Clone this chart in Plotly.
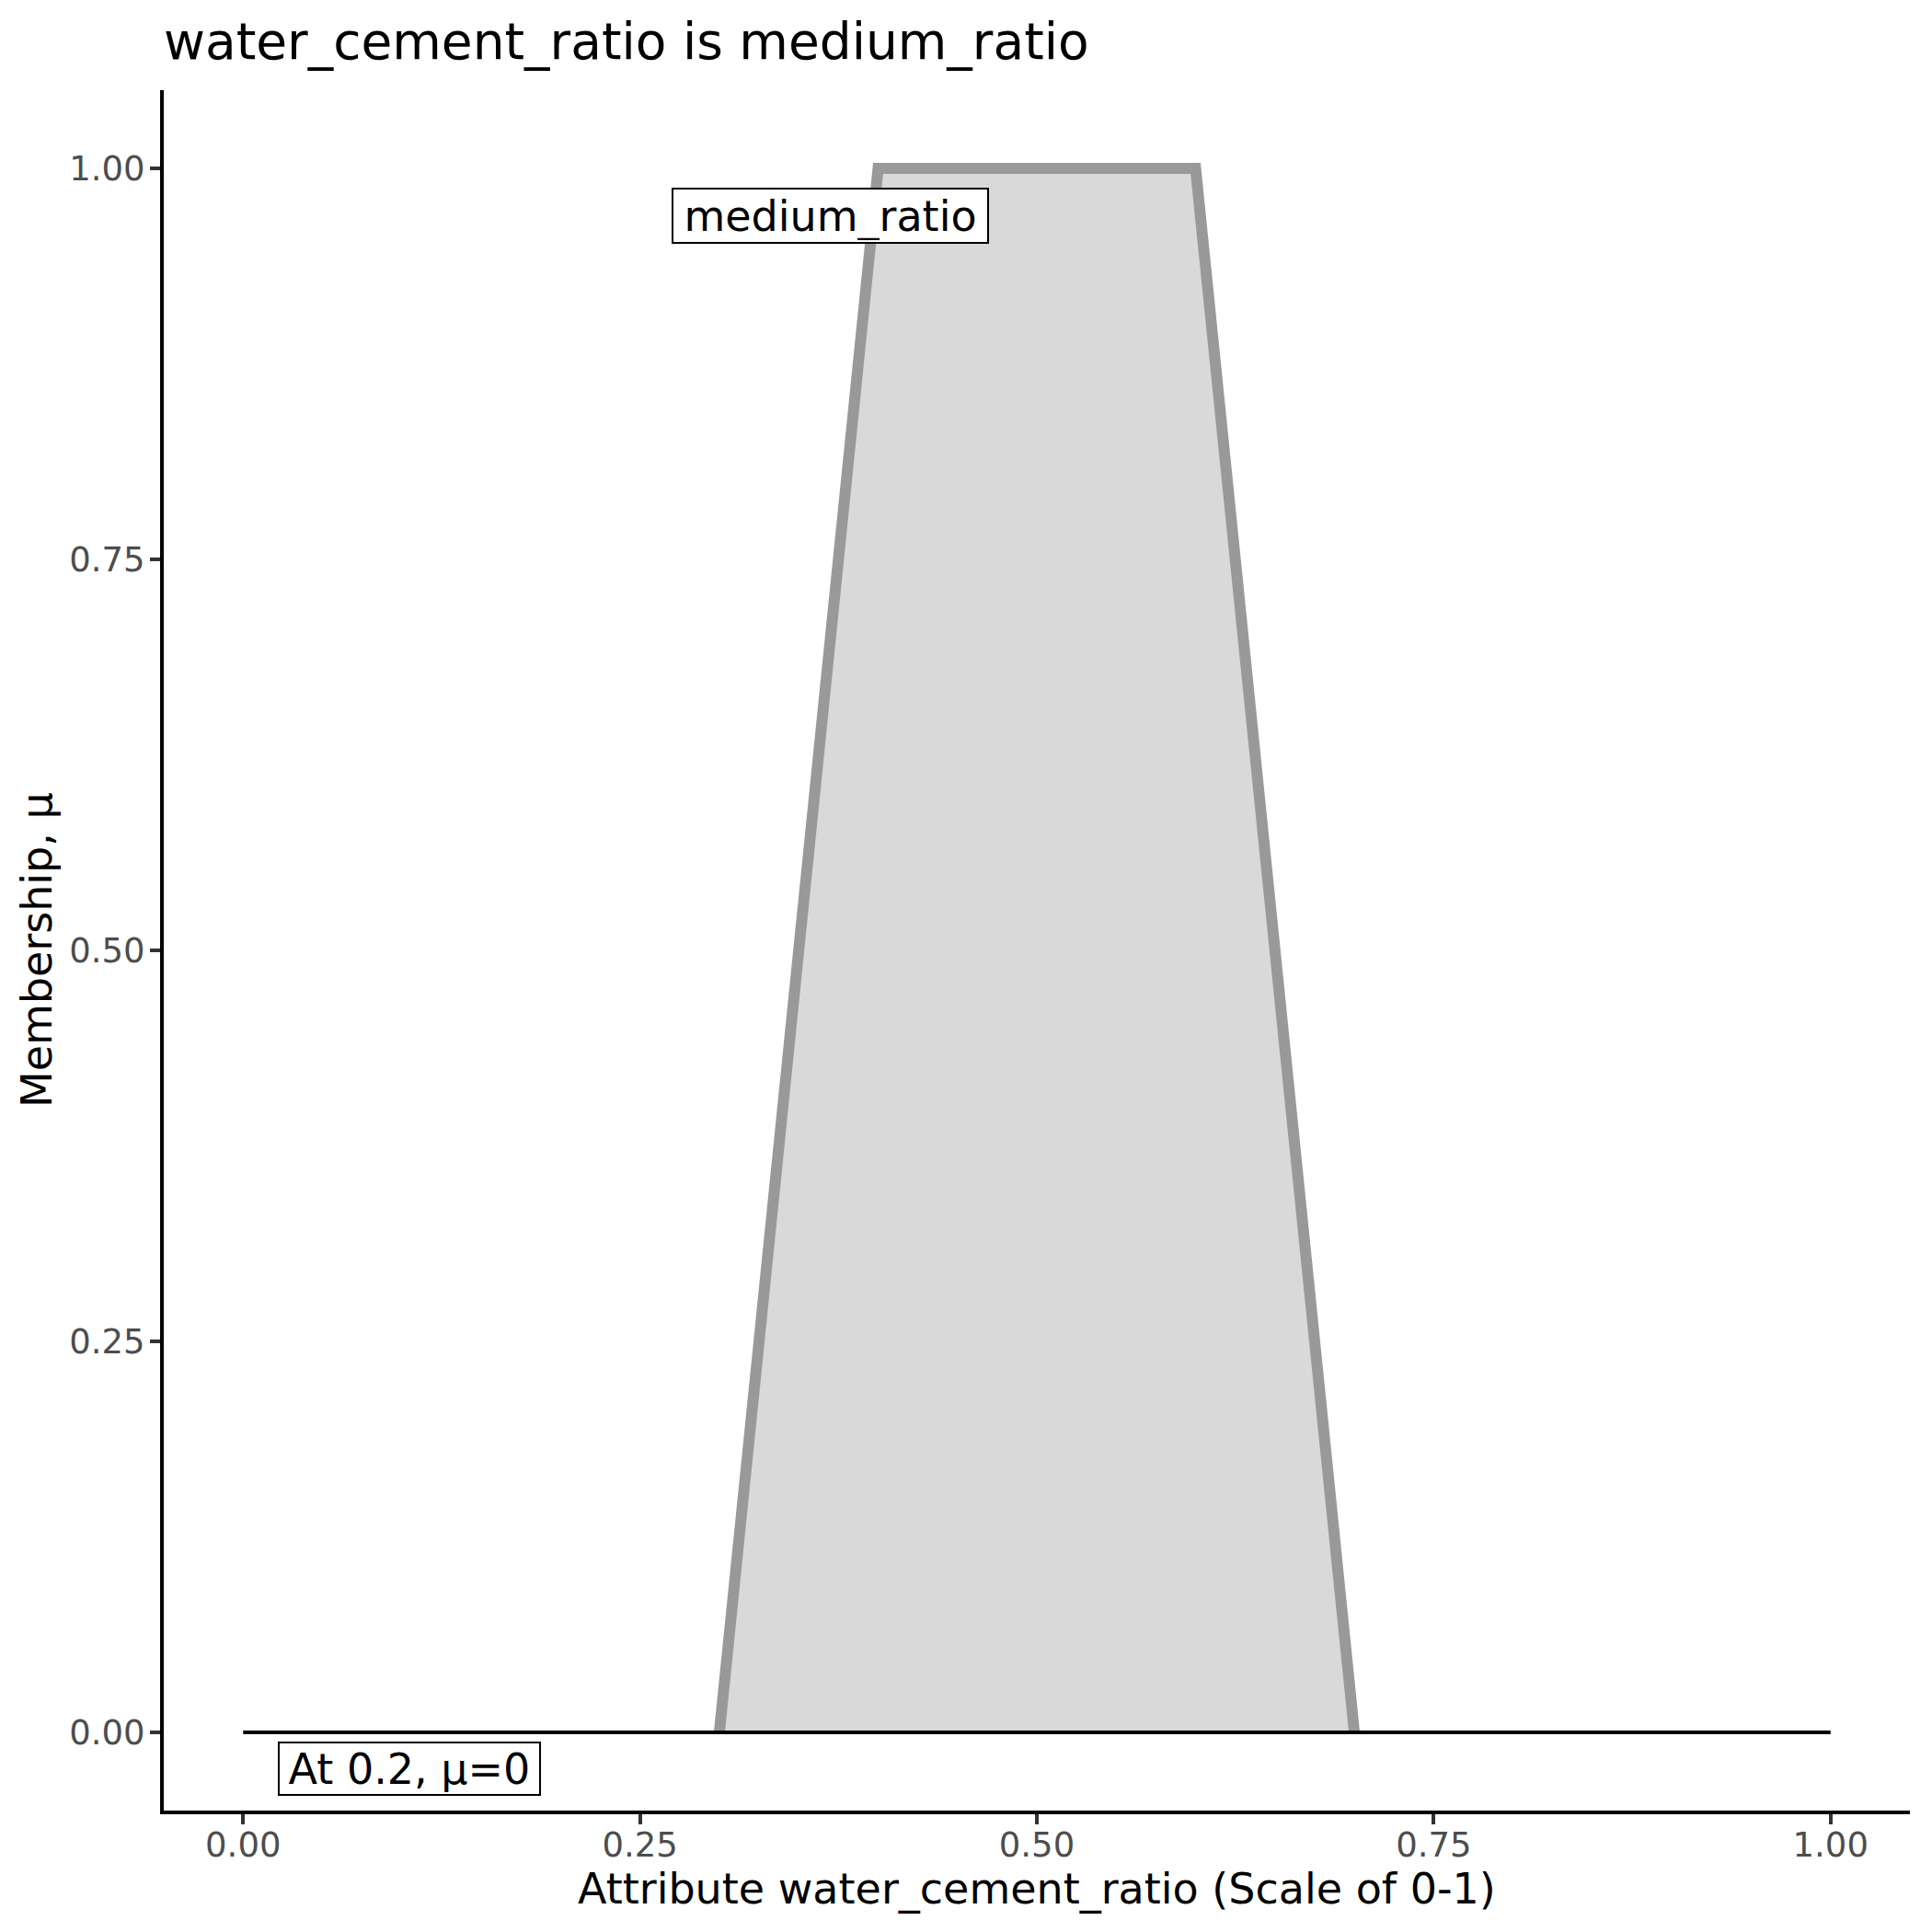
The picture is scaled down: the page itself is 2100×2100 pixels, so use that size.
import plotly.graph_objects as go

# data
mf_x = [0.3, 0.4, 0.6, 0.7]
mf_mu = [0, 1, 1, 0]
base_x = [0, 1]
base_mu = [0, 0]
tick_vals = [0, 0.25, 0.5, 0.75, 1.0]
tick_text = ["0.00", "0.25", "0.50", "0.75", "1.00"]
set_label = "medium_ratio"
set_label_pos = (0.37, 0.97)
point_label = "At 0.2, μ=0"
point_label_pos = (0.105, -0.023)

W = H = 2100
ml, mr, mt, mb = 170, 32, 90, 140
pw = W - ml - mr
ph = H - mt - mb
FONT = "DejaVu Sans"

fig = go.Figure()
fig.add_trace(go.Scatter(
    x=mf_x, y=mf_mu, mode="lines", fill="tozeroy",
    fillcolor="#D9D9D9", line=dict(color="#999999", width=12),
    hoverinfo="skip", showlegend=False))
fig.add_trace(go.Scatter(
    x=base_x, y=base_mu, mode="lines",
    line=dict(color="black", width=4), showlegend=False))

fig.add_annotation(x=set_label_pos[0], y=set_label_pos[1], text=set_label,
                   showarrow=False, font=dict(family=FONT, size=46, color="black"),
                   bgcolor="white", bordercolor="black", borderwidth=2, borderpad=2,
                   width=337, height=53, xanchor="center", yanchor="middle")
fig.add_annotation(x=point_label_pos[0], y=point_label_pos[1], text=point_label,
                   showarrow=False, font=dict(family=FONT, size=46, color="black"),
                   bgcolor="white", bordercolor="black", borderwidth=2, borderpad=2,
                   width=278, height=51, xanchor="center", yanchor="middle")

# axis titles
fig.add_annotation(xref="paper", yref="paper", x=0.5, y=-85 / ph,
                   text="Attribute water_cement_ratio (Scale of 0-1)", showarrow=False,
                   font=dict(family=FONT, size=46, color="black"),
                   xanchor="center", yanchor="middle")
fig.add_annotation(xref="paper", yref="paper", x=(32 - ml) / pw, y=0.5,
                   text="Membership, μ", showarrow=False, textangle=-90,
                   font=dict(family=FONT, size=46, color="black"),
                   xanchor="center", yanchor="middle")

axis_common = dict(
    showgrid=False, zeroline=False, showline=True, linecolor="black", linewidth=4,
    ticks="outside", ticklen=11, tickwidth=4, tickcolor="#333333",
    tickfont=dict(family=FONT, size=37, color="#4D4D4D"),
    tickvals=tick_vals, ticktext=tick_text,
)
fig.update_xaxes(range=[-0.05, 1.05], ticklabelstandoff=-9, **axis_common)
fig.update_yaxes(range=[-0.05, 1.05], ticklabelstandoff=-2, **axis_common)

fig.update_layout(
    width=W, height=H,
    margin=dict(l=ml, r=mr, t=mt, b=mb, autoexpand=False),
    plot_bgcolor="white", paper_bgcolor="white",
    title=dict(text="water_cement_ratio is medium_ratio",
               font=dict(family=FONT, size=55, color="black"),
               x=ml / W, xanchor="left", y=1 - 37 / H, yanchor="middle",
               xref="container", yref="container"),
    showlegend=False,
)
fig.write_html("out.html")
